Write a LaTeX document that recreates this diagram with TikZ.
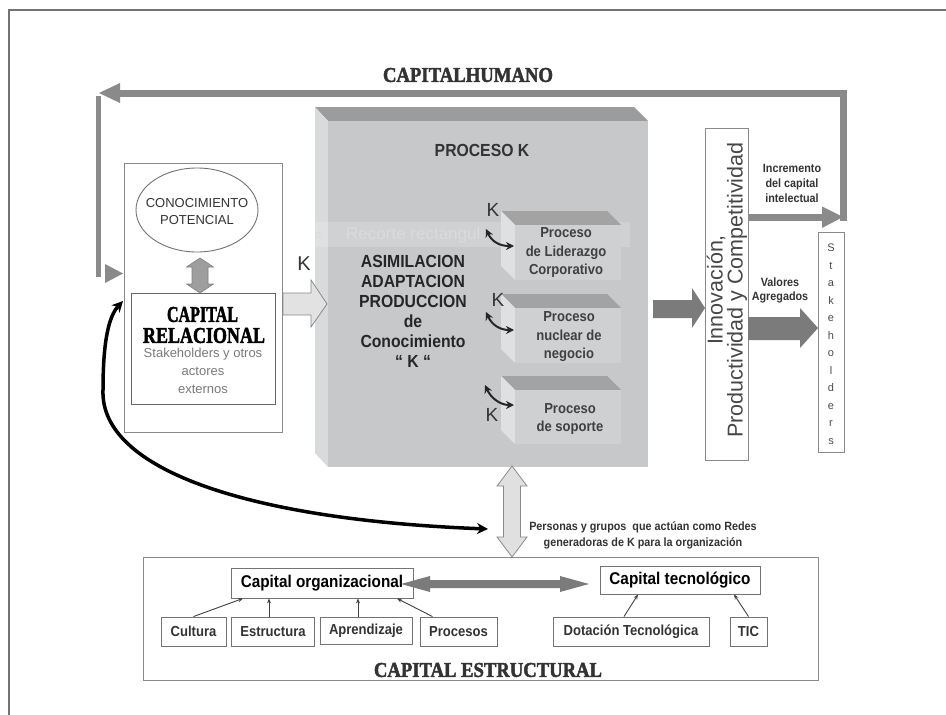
\documentclass[tikz,border=0pt]{standalone}
\usepackage{graphicx}
\usepackage{fontspec}
\setmainfont{Liberation Sans}
\newfontfamily\nar[FakeStretch=0.9]{Liberation Sans}
\newfontfamily\deco[FakeStretch=0.85,FakeBold=2]{Liberation Serif}
\usetikzlibrary{arrows.meta,shapes.geometric,calc}
\definecolor{loopgray}{HTML}{8A8A8A}
\definecolor{darkarrow}{HTML}{7B7B7B}
\definecolor{boxline}{HTML}{8A8A8A}
\definecolor{pfront}{HTML}{C6C8CA}
\definecolor{ptop}{HTML}{9C9C9C}
\definecolor{pside}{HTML}{D8DADC}
\definecolor{sfront}{HTML}{CED0D2}
\definecolor{stopc}{HTML}{A3A3A3}
\definecolor{sside}{HTML}{DEE0E2}
\definecolor{txtdark}{HTML}{333333}
\definecolor{txtgray}{HTML}{7A7A7A}
\definecolor{hollowfill}{HTML}{E2E2E2}
\newcommand\fsb[2]{\fontsize{#1}{#2}\selectfont}
\newcommand\subcube[4]{%
  \fill[stopc] (#1-14,#2-14) -- (#3-14,#2-14) -- (#3,#2) -- (#1,#2) -- cycle;
  \fill[sside] (#1-14,#2-14) -- (#1,#2) -- (#1,#4) -- (#1-14,#4-14) -- cycle;
  \fill[sfront] (#1,#2) rectangle (#3,#4);}
\tikzset{
  box/.style={draw=boxline, line width=0.9pt, fill=white, inner sep=0},
  lbl/.style={inner sep=0, align=center},
  darkblock/.style={fill=darkarrow},
  hollow/.style={fill=hollowfill, draw=boxline, line width=0.8pt},
  thinarr/.style={draw=black!75, line width=0.9pt, -{Stealth[length=5pt,width=4pt]}},
  karr/.style={draw=black!85, line width=2pt, {Stealth[length=8pt,width=8pt]}-{Stealth[length=8pt,width=8pt]}},
}
\begin{document}
\begin{tikzpicture}[x=1pt,y=-1pt]
\useasboundingbox (0,0) rectangle (946,715);
\fill[white] (0,0) rectangle (946,715);
% outer frame (only top and left visible)
\draw[black!55, line width=1.2pt] (9,715) -- (9,10) -- (946,10);

% title
\node[lbl, text=black!80] (humano) at (468,75) {\resizebox{170pt}{14pt}{\deco\bfseries CAPITALHUMANO}};

% capital humano loop
\draw[loopgray, line width=7pt] (843,221) -- (843,93) -- (118,93);
\fill[loopgray] (99,93) -- (120,83) -- (120,103) -- cycle;
\draw[loopgray, line width=5.5pt] (98.5,96) -- (98.5,277);
\fill[loopgray] (105,264) -- (123,273.5) -- (105,283) -- cycle;

% relational outer box
\node[box, minimum width=158pt, minimum height=269pt] (relbox) at (203,297.5) {};
\node[box, draw=black!55, ellipse, minimum width=122pt, minimum height=84pt] (conpot) at (197,210) {};
\node[lbl, txtdark, font=\fsb{13}{17}] (conpottxt) at (197,212) {CONOCIMIENTO\\POTENCIAL};
% double arrow ellipse <-> relacional
\filldraw[fill=black!38, draw=black!50, line width=0.6pt]
  (200,258) -- (213.5,267) -- (208,267) -- (208,284) -- (213.5,284) -- (200,293)
  -- (186.5,284) -- (192,284) -- (192,267) -- (186.5,267) -- cycle;
\node[box, draw=black!60, minimum width=144pt, minimum height=111pt] (relac) at (203,348.5) {};
\node[lbl] (cap1) at (202.5,314.5) {\resizebox{71pt}{15pt}{\deco\bfseries CAPITAL}};
\node[lbl] (cap2) at (204,335.5) {\resizebox{122pt}{15pt}{\deco\bfseries RELACIONAL}};
\node[lbl, txtgray, font=\fsb{13}{18}] (stk) at (203,371) {Stakeholders y otros\\actores\\externos};

% K label
\node[lbl, txtdark, font=\fsb{20}{20}] (k0) at (304,264) {K};

% process box 3D
\fill[ptop] (315,107) -- (634,107) -- (648,121) -- (328,121) -- cycle;
\fill[pside] (315,107) -- (328,121) -- (328,467) -- (315,453) -- cycle;
\fill[pfront] (328,121) rectangle (648,467);
\node[lbl, txtdark, font={\nar\bfseries\fsb{17.5}{18}}] (prok) at (482,150) {PROCESO K};
% faint clipping banner
\fill[white, opacity=0.18] (313,222) rectangle (630,247);
\draw[black!15, line width=0.8pt] (318,235) circle (2.5pt);
\node[lbl, anchor=west, text=black!14, font=\fsb{17}{17}] (recorte) at (346,235) {Recorte rectangul};

\node[lbl, text=black!85, font={\nar\bfseries\fsb{17.5}{20}}] (asim) at (413,311)
  {ASIMILACION\\ADAPTACION\\PRODUCCION\\de\\Conocimiento\\“ K “};

% sub process cubes
\subcube{515}{225}{621}{280}
\subcube{515}{308}{621}{363}
\subcube{515}{390}{621}{444}
\node[lbl, text=black!75, font={\nar\bfseries\fsb{14.5}{18.5}}] (lid) at (566,253) {Proceso\\de Liderazgo\\Corporativo};
\node[lbl, text=black!75, font={\nar\bfseries\fsb{14.5}{18.5}}] (nuc) at (569,337) {Proceso\\nuclear de\\negocio};
\node[lbl, text=black!75, font={\nar\bfseries\fsb{14.5}{18.5}}] (sop) at (570,419) {Proceso\\de soporte};
\node[lbl, txtdark, font=\fsb{19}{19}] (k1) at (493,210) {K};
\node[lbl, txtdark, font=\fsb{19}{19}] (k2) at (498,300) {K};
\node[lbl, txtdark, font=\fsb{19}{19}] (k3) at (492,415) {K};
\coordinate (a1s) at (486,229); \coordinate (a1e) at (514,246);
\coordinate (a2s) at (486,312); \coordinate (a2e) at (514,330);
\coordinate (a3s) at (485,385); \coordinate (a3e) at (514,405);
\draw[karr] (a1s) .. controls (492,242) and (500,246) .. (a1e);
\draw[karr] (a2s) .. controls (492,325) and (500,330) .. (a2e);
\draw[karr] (a3s) .. controls (491,398) and (500,405) .. (a3e);

% hollow arrow relational -> process
\filldraw[hollow] (283,293) -- (311,293) -- (311,280) -- (327,304) -- (311,327) -- (311,315) -- (283,315) -- cycle;

% dark arrow process -> innovacion
\fill[darkblock] (653,300) -- (692,300) -- (692,288) -- (705,308) -- (692,328) -- (692,318) -- (653,318) -- cycle;

% innovacion box
\node[box, minimum width=43pt, minimum height=332pt] (innov) at (726.5,294) {};
\node[lbl, rotate=90, text=black!72, font=\fsb{21.5}{20}] (innovtxt) at (727,290) {Innovación,\\Productividad y Competitividad};

% incremento arrow
\draw[loopgray, line width=7pt] (748,217) -- (824,217);
\fill[loopgray] (822,206.5) -- (843,217) -- (822,228) -- cycle;
\node[lbl, txtdark, font={\nar\bfseries\fsb{12}{15}}] (incr) at (792,183) {Incremento\\del capital\\intelectual};

% valores arrow
\node[lbl, txtdark, font={\nar\bfseries\fsb{12}{14}}] (valores) at (780,290) {Valores\\Agregados};
\fill[darkblock] (748,317) -- (800,317) -- (800,308) -- (818,328) -- (800,348) -- (800,340) -- (748,340) -- cycle;

% stakeholders
\node[box, minimum width=26pt, minimum height=220pt] (stakebox) at (831,342) {};
\node[lbl, text=black!70, font=\fsb{11}{17.5}] (staketxt) at (831,344)
  {S\\t\\a\\k\\e\\h\\o\\l\\d\\e\\r\\s};

% personas double arrow
\filldraw[hollow, fill=black!12]
  (512,466) -- (527,486) -- (520.5,486) -- (520.5,537) -- (527,537) -- (512,557)
  -- (497,537) -- (503.5,537) -- (503.5,486) -- (497,486) -- cycle;
\node[lbl, txtdark, font={\nar\bfseries\fsb{12}{16}}] (personas) at (643,535)
  {Personas y grupos\ \ que actúan como Redes\\generadoras de K para la organización};

% black curved arrow
\coordinate (bcA) at (488,529);
\coordinate (bcB) at (123,301);
\draw[black, line width=3.5pt, {Stealth[length=11pt,width=11pt]}-{Stealth[length=11pt,width=11pt]}]
  (bcA) .. controls (250,520) and (100,470) .. (103,390) .. controls (103,340) and (109,316) .. (bcB);

% capital estructural
\node[box, minimum width=675pt, minimum height=123pt] (estruct) at (480.5,618.5) {};
\node[box, draw=black!55, minimum width=182pt, minimum height=30pt, font={\nar\bfseries\fsb{17}{17}}] (corg) at (322,583) {Capital organizacional};
\node[box, draw=black!55, minimum width=160pt, minimum height=28pt, font={\nar\bfseries\fsb{17}{17}}] (ctec) at (680,580) {Capital tecnológico};
\fill[darkarrow] (401,584) -- (430,576) -- (430,580) -- (560,580) -- (560,576) -- (589,584)
  -- (560,592) -- (560,588) -- (430,588) -- (430,592) -- cycle;
\tikzset{small/.style={box, draw=black!55, minimum height=29pt, font={\nar\bfseries\fsb{14.5}{14.5}}, text=black!80}}
\node[small, minimum width=65pt] (cultura) at (193.5,631.5) {Cultura};
\node[small, minimum width=83pt] (estr) at (273,631.5) {Estructura};
\node[small, minimum width=92pt, minimum height=27pt] (aprend) at (366,630.5) {Aprendizaje};
\node[small, minimum width=77pt] (procs) at (458.5,631.5) {Procesos};
\node[small, minimum width=156pt] (dot) at (631,631.5) {Dotación Tecnológica};
\node[small, minimum width=37pt] (tic) at (748.5,631.5) {TIC};
\draw[thinarr] (cultura.north) -- ([xshift=-79pt]corg.south);
\draw[thinarr] ([xshift=-4pt]estr.north) -- ([xshift=-53pt]corg.south);
\draw[thinarr] ([xshift=-8pt]aprend.north) -- ([xshift=36pt]corg.south);
\draw[thinarr] ([xshift=-26pt]procs.north) -- ([xshift=75pt]corg.south);
\draw[thinarr] ([xshift=-7pt]dot.north) -- ([xshift=-42pt]ctec.south);
\draw[thinarr] (tic.north) -- ([xshift=54pt]ctec.south);
\node[lbl, text=black!80] (capest) at (488,670) {\resizebox{228pt}{14pt}{\deco\bfseries CAPITAL ESTRUCTURAL}};
\end{tikzpicture}
\end{document}
